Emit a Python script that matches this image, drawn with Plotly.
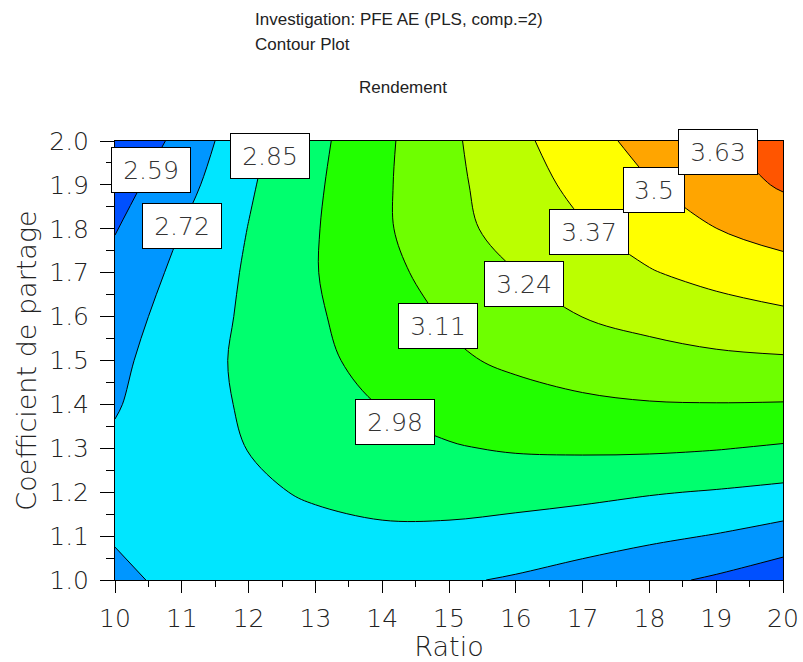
import plotly.graph_objects as go

# ---------------- data ----------------
ratio = [10, 11, 12, 13, 14, 15, 16, 17, 18, 19, 20]
coefficient = [1.0, 1.1, 1.2, 1.3, 1.4, 1.5, 1.6, 1.7, 1.8, 1.9, 2.0]

# Rendement, one row per coefficient value (1.0 ... 2.0), columns = ratio 10 ... 20
rendement = [
    [2.690, 2.755, 2.775, 2.780, 2.770, 2.735, 2.708, 2.670, 2.620, 2.572, 2.505],
    [2.730, 2.780, 2.810, 2.825, 2.830, 2.822, 2.799, 2.773, 2.745, 2.713, 2.668],
    [2.750, 2.795, 2.835, 2.860, 2.885, 2.899, 2.895, 2.881, 2.859, 2.841, 2.819],
    [2.740, 2.800, 2.852, 2.890, 2.940, 2.971, 2.991, 2.998, 2.998, 2.986, 2.965],
    [2.710, 2.800, 2.865, 2.920, 2.985, 3.026, 3.065, 3.089, 3.103, 3.106, 3.103],
    [2.690, 2.795, 2.875, 2.955, 3.020, 3.090, 3.132, 3.167, 3.193, 3.214, 3.224],
    [2.660, 2.780, 2.870, 2.965, 3.050, 3.123, 3.186, 3.241, 3.279, 3.315, 3.344],
    [2.620, 2.755, 2.865, 2.975, 3.075, 3.160, 3.238, 3.300, 3.362, 3.410, 3.452],
    [2.585, 2.721, 2.853, 2.972, 3.088, 3.213, 3.273, 3.359, 3.428, 3.499, 3.551],
    [2.535, 2.675, 2.835, 2.962, 3.090, 3.212, 3.305, 3.410, 3.493, 3.565, 3.645],
    [2.480, 2.626, 2.815, 2.948, 3.083, 3.215, 3.338, 3.448, 3.546, 3.615, 3.700],
]

level_start = 2.59
level_end = 3.63
level_step = 0.13

contour_labels = ["2.59", "2.72", "2.85", "2.98", "3.11", "3.24", "3.37", "3.5", "3.63"]
x_ticks = [10, 11, 12, 13, 14, 15, 16, 17, 18, 19, 20]
y_ticks = [1.0, 1.1, 1.2, 1.3, 1.4, 1.5, 1.6, 1.7, 1.8, 1.9, 2.0]

# ---------------- styling ----------------
label_pos_x = [10.54, 11.0, 12.32, 14.19, 14.84, 16.12, 17.1, 18.07, 19.03]
label_pos_y = [1.934, 1.806, 1.966, 1.36, 1.579, 1.674, 1.793, 1.888, 1.975]

band_colors = ["#0050ff", "#0096ff", "#00e6ff", "#00ff6e", "#22ff00",
               "#6eff00", "#bbff00", "#ffff00", "#ffa500", "#ff5500"]
n = len(band_colors) - 1
colorscale = []
for k, c in enumerate(band_colors):
    lo = 0.0 if k == 0 else (k - 0.3) / n
    hi = 1.0 if k == n else (k + 0.7) / n
    colorscale.append([lo, c])
    colorscale.append([hi, c])

fig = go.Figure()
fig.add_trace(go.Contour(
    x=ratio, y=coefficient, z=rendement,
    autocontour=False,
    contours=dict(start=level_start, end=level_end, size=level_step,
                  coloring="fill", showlabels=False),
    colorscale=colorscale,
    showscale=False,
    line=dict(color="black", width=1, smoothing=1),
    hoverinfo="skip",
))

tick_font = dict(family="DejaVu Sans", size=25, color="#222222", weight=200)
title_axis_font = dict(family="DejaVu Sans", size=27, color="#222222", weight=200)

annotations = []
for txt, lx, ly in zip(contour_labels, label_pos_x, label_pos_y):
    annotations.append(dict(
        x=lx, y=ly, xref="x", yref="y", text=txt, showarrow=False,
        xanchor="center", yanchor="middle",
        font=dict(family="DejaVu Sans", size=25, color="#333333", weight=200),
        bgcolor="white", bordercolor="black", borderwidth=1,
        width=44 if len(txt) == 3 else 62, height=28, borderpad=8,
    ))

title_font = dict(family="Liberation Sans", size=17, color="#222222")
annotations += [
    dict(x=0.2066, y=1.276, xref="paper", yref="paper", xanchor="left", yanchor="middle",
         text="Investigation: PFE AE (PLS, comp.=2)", showarrow=False, font=title_font),
    dict(x=0.2066, y=1.219, xref="paper", yref="paper", xanchor="left", yanchor="middle",
         text="Contour Plot", showarrow=False, font=title_font),
    dict(x=0.4311, y=1.123, xref="paper", yref="paper", xanchor="center", yanchor="middle",
         text="Rendement", showarrow=False, font=title_font),
]

fig.update_layout(
    width=803, height=662,
    margin=dict(l=115, r=20, t=141, b=82, pad=0, autoexpand=False),
    paper_bgcolor="white", plot_bgcolor="white",
    showlegend=False,
    annotations=annotations,
    xaxis=dict(
        range=[10, 20], tickvals=x_ticks, ticktext=[str(v) for v in x_ticks],
        automargin=False,
        ticks="outside", ticklen=12, tickwidth=1, tickcolor="black",
        minor=dict(dtick=0.5, ticks="outside", ticklen=6, tickcolor="black", showgrid=False),
        showline=True, linecolor="black", linewidth=1, mirror=True,
        showgrid=False, zeroline=False, tickfont=tick_font,
        ticklabelstandoff=4,
        title=dict(text="Ratio", font=title_axis_font, standoff=3),
    ),
    yaxis=dict(
        range=[1.0, 2.0], tickvals=y_ticks, ticktext=["%.1f" % v for v in y_ticks],
        automargin=False,
        ticks="outside", ticklen=14, tickwidth=1, tickcolor="black",
        minor=dict(dtick=0.05, ticks="outside", ticklen=8, tickcolor="black", showgrid=False),
        showline=True, linecolor="black", linewidth=1, mirror=True,
        showgrid=False, zeroline=False, tickfont=tick_font,
        ticklabelstandoff=6,
        title=dict(text="Coefficient de partage", font=title_axis_font, standoff=4),
    ),
)

fig.write_html("out.html")
